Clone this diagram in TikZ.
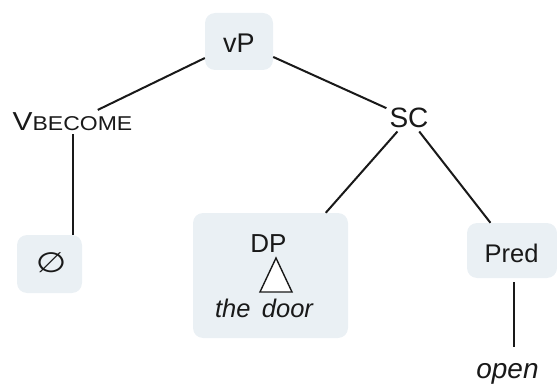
\documentclass[tikz,border=0pt]{standalone}
\usepackage{fontspec}
\setmainfont{Liberation Sans}
\newfontfamily\symfont{DejaVu Sans}
\definecolor{boxfill}{RGB}{234,240,244}
\definecolor{ink}{RGB}{25,25,25}
\tikzset{
  catbox/.style={rectangle, rounded corners=10pt, fill=boxfill, draw=none, inner sep=0pt},
  label/.style={inner sep=3pt, text=ink},
  branch/.style={draw=ink, line width=2pt},
}
\newcommand{\fs}[1]{\fontsize{#1}{#1}\selectfont}
\begin{document}
\begin{tikzpicture}[x=1pt, y=-1pt]
  \useasboundingbox (0,0) rectangle (557,385);

  % boxed categories
  \node[catbox, minimum width=68pt, minimum height=57pt] (vP) at (239,41.5) {};
  \node[label, anchor=base] at (239,53) {\fs{27}vP};
  \node[catbox, minimum width=65pt, minimum height=58pt] (null) at (49.5,264) {};
  \node[label] at (51,263) {\scalebox{1.25}[1]{\symfont\fs{28}\itshape ∅}};
  \node[catbox, minimum width=155pt, minimum height=125pt] (DPbox) at (270.5,275.5) {};
  \node[catbox, minimum width=90pt, minimum height=55pt] (Pred) at (512,250.5) {};
  \node[label, anchor=base] at (511.5,262) {\fs{25.5}Pred};

  % plain labels
  \node[label, anchor=base] (vb) at (72.5,131) {\scalebox{1.15}[1]{\fs{26}V\fs{20}BECOME}};
  \node[label, anchor=base] (SC) at (409,128) {\fs{28}SC};
  \node[label, anchor=base] (DP) at (268.5,252) {\fs{26}DP};
  \node[label, anchor=base] (door) at (264,317) {\fs{25.5}\itshape the\hspace{0.45em}door};
  \node[label, anchor=base] (open) at (507.5,378) {\fs{28}\itshape open};

  % triangle under DP
  \coordinate (apex) at (276,258);
  \draw[draw=ink, line width=1.4pt, fill=white, line join=miter]
    (apex) -- ++(-16,34) -- ++(32,0) -- cycle;

  % branches
  \draw[branch] (vP) -- (vb);
  \draw[branch] (vP) -- (SC);
  \draw[branch] (vb.south) -- (vb.south |- null.north);
  \draw[branch] (SC) -- (DPbox);
  \draw[branch] (SC) -- (Pred);
  \draw[branch, shorten <=4pt, shorten >=13pt] ([xshift=1.5pt]Pred.south) -- ([xshift=1.5pt]Pred.south |- open.north);
\end{tikzpicture}
\end{document}
